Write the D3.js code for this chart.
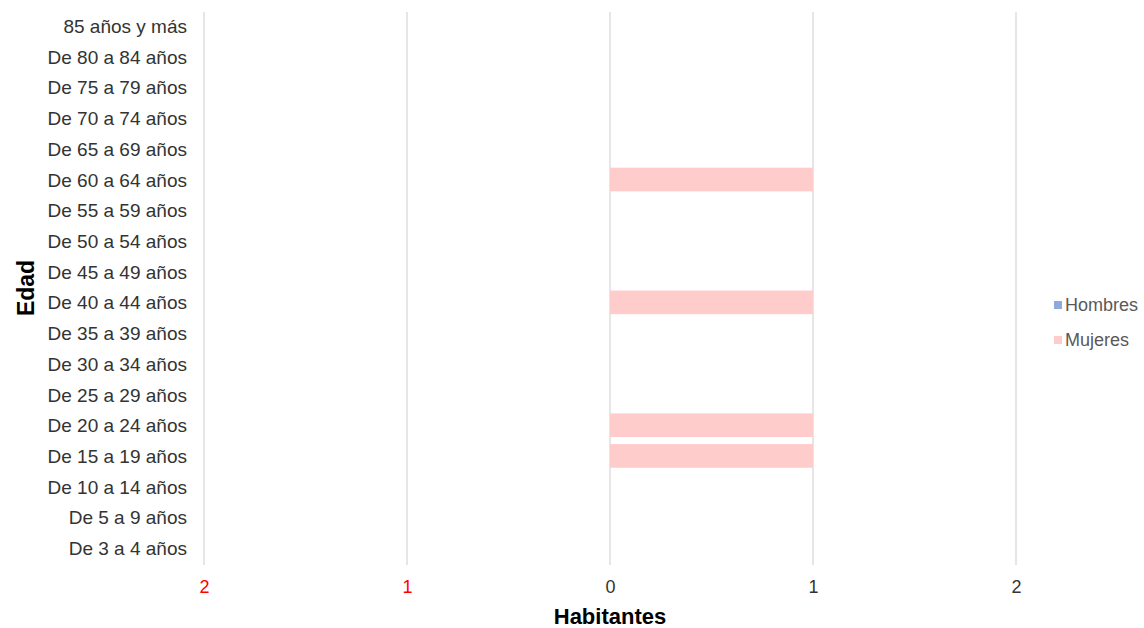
<!DOCTYPE html>
<html><head><meta charset="utf-8">
<script src="https://cdn.jsdelivr.net/npm/d3@7"></script>
<style>body{margin:0;background:#fff}svg{display:block}text{font-family:"Liberation Sans",Arial,sans-serif}</style>
</head><body><svg id="c" width="1144" height="628"></svg>
<script>
const categories = ["85 años y más","De 80 a 84 años","De 75 a 79 años","De 70 a 74 años","De 65 a 69 años","De 60 a 64 años","De 55 a 59 años","De 50 a 54 años","De 45 a 49 años","De 40 a 44 años","De 35 a 39 años","De 30 a 34 años","De 25 a 29 años","De 20 a 24 años","De 15 a 19 años","De 10 a 14 años","De 5 a 9 años","De 3 a 4 años"];
const hombres = [0,0,0,0,0,0,0,0,0,0,0,0,0,0,0,0,0,0];
const mujeres = [0,0,0,0,0,1,0,0,0,1,0,0,0,1,1,0,0,0];
const tickValues = [-2,-1,0,1,2];
const tickLabels = ["2","1","0","1","2"];
const seriesNames = ["Hombres","Mujeres"];
const colors = ["#8EA9DB","#FFCCCC"];

const svg = d3.select("#c");
const x = d3.scaleLinear().domain([-2,2]).range([204,1016]);
const y = d3.scaleBand().domain(categories).range([10.6,563.4]).paddingInner(0.23).paddingOuter(0.115);

// gridlines
svg.append("g").selectAll("line").data(tickValues).join("line")
  .attr("x1",d=>x(d)).attr("x2",d=>x(d)).attr("y1",12).attr("y2",565)
  .attr("stroke","#d9d9d9").attr("stroke-width",1.3);

// bars
svg.append("g").selectAll("rect").data(hombres.map((v,i)=>({c:categories[i],v}))).join("rect")
  .attr("x",d=>x(-d.v)).attr("width",d=>x(0)-x(-d.v))
  .attr("y",d=>y(d.c)).attr("height",y.bandwidth()).attr("fill",colors[0]);
svg.append("g").selectAll("rect").data(mujeres.map((v,i)=>({c:categories[i],v}))).join("rect")
  .attr("x",x(0)).attr("width",d=>x(d.v)-x(0))
  .attr("y",d=>y(d.c)).attr("height",y.bandwidth()).attr("fill",colors[1]);

// y axis labels
const ya = svg.append("g").attr("transform","translate(187,1)")
  .call(d3.axisLeft(y).tickSize(0).tickPadding(0));
ya.select(".domain").remove();
ya.selectAll("text").attr("font-size",19).attr("fill","#333").attr("font-family","'Liberation Sans',Arial,sans-serif");

// x axis labels
const xa = svg.append("g").attr("transform","translate(0,580)")
  .call(d3.axisBottom(x).tickValues(tickValues).tickFormat((d,i)=>tickLabels[i]).tickSize(0).tickPadding(0));
xa.select(".domain").remove();
xa.selectAll("text").attr("font-size",18).attr("fill",d=>d<0?"#ff0000":"#333").attr("font-family","'Liberation Sans',Arial,sans-serif");

// axis titles
svg.append("text").attr("x",x(0)).attr("y",624).attr("text-anchor","middle")
  .attr("font-size",22).attr("font-weight","bold").attr("fill","#000").text("Habitantes");
svg.append("text").attr("transform","translate(34,288) rotate(-90)").attr("text-anchor","middle")
  .attr("font-size",23).attr("font-weight","bold").attr("fill","#000").text("Edad");

// legend
const lg = svg.append("g").selectAll("g").data(seriesNames).join("g")
  .attr("transform",(d,i)=>`translate(1054,${305+i*35})`);
lg.append("rect").attr("x",0).attr("y",-4).attr("width",8).attr("height",8).attr("fill",(d,i)=>colors[i]);
lg.append("text").attr("x",11).attr("y",0).attr("dy","0.35em").attr("font-size",18).attr("fill","#595959").text(d=>d);
</script></body></html>
